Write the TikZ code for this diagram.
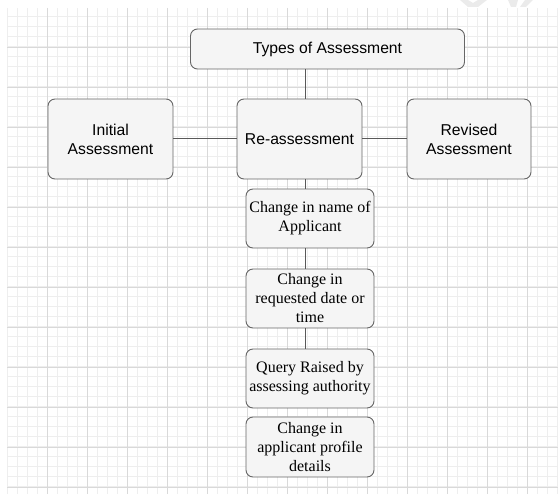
\documentclass[tikz,border=0pt]{standalone}
\usepackage{fontspec}
\setmainfont{Liberation Serif}
\newfontfamily\helv{Liberation Sans}
\definecolor{boxfill}{HTML}{F5F5F5}
\definecolor{boxline}{HTML}{666666}
\definecolor{gridminor}{HTML}{EEEEEE}
\definecolor{gridmajor}{HTML}{D9D9D9}
\definecolor{logogray}{HTML}{EBEBEB}

\begin{document}
\begin{tikzpicture}[x=1pt, y=-1pt,
  card/.style={draw=boxline, fill=boxfill, rounded corners=7pt, line width=0.9pt,
    align=center, inner sep=0pt, minimum height=80pt, minimum width=125pt,
    font=\helv\fontsize{15.7}{19}\selectfont},
  reason/.style={card, minimum width=128pt, minimum height=59pt,
    font=\fontsize{16}{19}\selectfont},
  link/.style={draw=black!65, line width=1pt}]
\useasboundingbox (0,0) rectangle (558,494);

% background grid
\foreach \gx in {7,17,...,557} \draw[gridminor, line width=1pt] (\gx,8) -- (\gx,494);
\foreach \gy in {17,27,...,487} \draw[gridminor, line width=1pt] (7,\gy) -- (558,\gy);
\foreach \gx in {47,87,...,527} \draw[gridmajor, line width=0.9pt] (\gx,8) -- (\gx,494);
\foreach \gy in {47,87,...,487} \draw[gridmajor, line width=0.9pt] (7,\gy) -- (558,\gy);

% faint logo at the top edge
\fill[logogray] (460,0) -- (468,0) -- (473,3) -- (478,0) -- (487,0) -- (478,7) -- (468,7) -- cycle;
\fill[logogray] (508,0) -- (518,0) -- (516,7) -- (511,7) -- cycle;
\fill[logogray] (525,0) -- (533,0) -- (526,7) -- (520,7) -- cycle;

\node[card, minimum width=274pt, minimum height=40pt] (types) at (327.5,49) {Types of Assessment};
\node[card] (initial) at (110.5,139) {Initial\\Assessment};
\node[card] (reass) at (299.5,139) {Re-assessment};
\node[card, minimum width=124pt] (revised) at (469,139) {Revised\\Assessment};

\node[reason] (name) at (310,218.5) {Change in name of\\Applicant};
\node[reason] (date) at (310,298.5) {Change in\\requested date or\\time};
\node[reason] (query) at (310,378.5) {Query Raised by\\assessing authority};
\node[reason, minimum height=60pt] (profile) at (310,447) {Change in\\applicant profile\\details};

\coordinate (trunk) at (305,0);
\draw[link] (types.south -| trunk) -- (reass.north -| trunk);
\draw[link] (initial) -- (reass);
\draw[link] (reass) -- (revised);
\draw[link] (reass.south -| trunk) -- (name.north -| trunk);
\draw[link] (name.south -| trunk) -- (date.north -| trunk);
\draw[link] (date.south -| trunk) -- (query.north -| trunk);
\end{tikzpicture}
\end{document}
